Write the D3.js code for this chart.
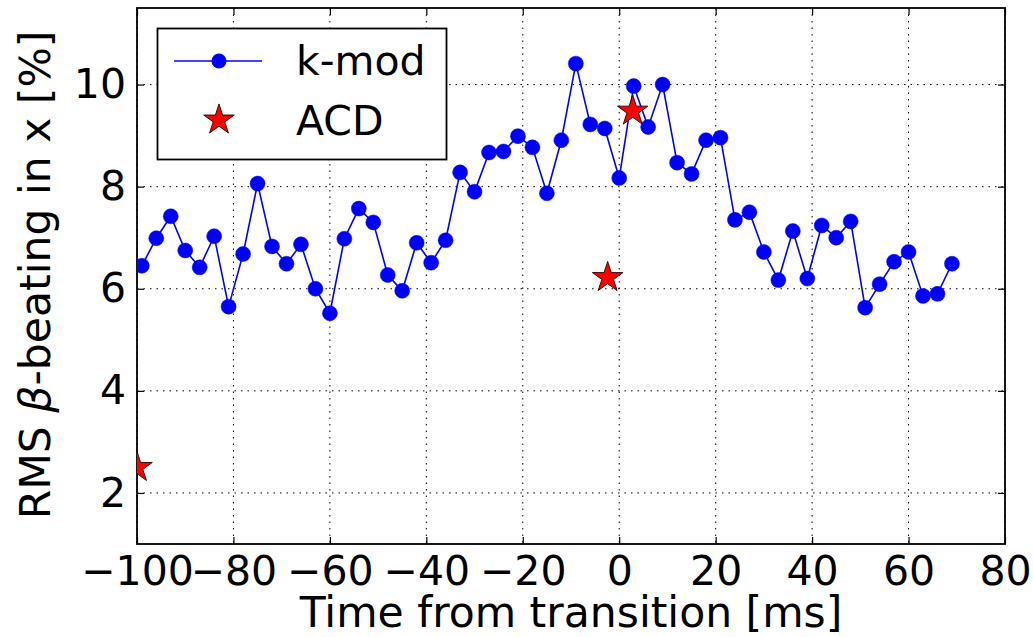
<!DOCTYPE html>
<html>
<head>
<meta charset="utf-8">
<script src="https://cdn.jsdelivr.net/npm/d3@7"></script>
<style>
  body { margin: 0; background: #fff; }
  text { font-family: "DejaVu Sans", sans-serif; fill: #000; }
</style>
</head>
<body>
<div id="chart"></div>
<script>
// k-mod measurements
var kmodTime = [-99, -96, -93, -90, -87, -84, -81, -78, -75, -72, -69, -66, -63, -60, -57,
    -54, -51, -48, -45, -42, -39, -36, -33, -30, -27, -24, -21, -18, -15, -12, -9, -6, -3,
    0, 3, 6, 9, 12, 15, 18, 21, 24, 27, 30, 33, 36, 39, 42, 45, 48, 51, 54, 57, 60, 63, 66, 69];
var kmodBeat = [6.45, 6.99, 7.42, 6.75, 6.42, 7.03, 5.65, 6.68, 8.06, 6.83,
    6.49, 6.87, 6.0, 5.52, 6.98, 7.57, 7.3, 6.27, 5.96, 6.9,
    6.51, 6.95, 8.28, 7.9, 8.67, 8.69, 8.99, 8.77, 7.87, 8.91,
    10.41, 9.22, 9.14, 8.17, 9.97, 9.17, 10.0, 8.47, 8.25, 8.91,
    8.96, 7.35, 7.5, 6.72, 6.17, 7.13, 6.2, 7.24, 7.0, 7.32,
    5.63, 6.09, 6.53, 6.72, 5.86, 5.9, 6.49];

// ACD measurements
var acdTime = [-100, -2.4, 2.8];
var acdBeat = [2.5, 6.22, 9.48];

var xTicks = [-100, -80, -60, -40, -20, 0, 20, 40, 60, 80];
var yTicks = [2, 4, 6, 8, 10];
var legendLabels = ["k-mod", "ACD"];

var svgWidth = 1033;
var svgHeight = 637;
var margin = { top: 8, right: 28, bottom: 93, left: 137 };
var chartWidth = svgWidth - margin.left - margin.right;
var chartHeight = svgHeight - margin.top - margin.bottom;

var svg = d3.select("#chart")
    .append("svg")
    .attr("width", svgWidth)
    .attr("height", svgHeight);

var chartGroup = svg.append("g")
    .attr("transform", `translate(${margin.left}, ${margin.top})`);

var xScale = d3.scaleLinear().domain([-100, 80]).range([0, chartWidth]);
var yScale = d3.scaleLinear().domain([1, 11.5]).range([chartHeight, 0]);

// clip for the data
svg.append("defs").append("clipPath")
    .attr("id", "plotClip")
    .append("rect")
    .attr("width", chartWidth)
    .attr("height", chartHeight);

// dotted grid
var grid = chartGroup.append("g").attr("class", "grid");
grid.selectAll("line.gx")
    .data(xTicks)
    .enter()
    .append("line")
    .attr("x1", d => xScale(d))
    .attr("x2", d => xScale(d))
    .attr("y1", 0)
    .attr("y2", chartHeight);
grid.selectAll("line.gy")
    .data(yTicks)
    .enter()
    .append("line")
    .attr("x1", 0)
    .attr("x2", chartWidth)
    .attr("y1", d => yScale(d))
    .attr("y2", d => yScale(d));
grid.selectAll("line")
    .attr("stroke", "#000")
    .attr("stroke-width", 1)
    .attr("stroke-dasharray", "1.5,5");

// Axes (ticks pointing inward on every side)
var tickLen = 7;
chartGroup.append("g")
    .attr("transform", `translate(0, ${chartHeight})`)
    .call(d3.axisBottom(xScale).tickValues(xTicks).tickSize(-tickLen).tickPadding(12))
    .call(g => g.selectAll("text").attr("font-size", 41).attr("font-family", "DejaVu Sans"));

chartGroup.append("g")
    .call(d3.axisTop(xScale).tickValues(xTicks).tickSize(-tickLen).tickFormat(""));

chartGroup.append("g")
    .call(d3.axisLeft(yScale).tickValues(yTicks).tickSize(-tickLen).tickPadding(11))
    .call(g => g.selectAll("text").attr("font-size", 41).attr("font-family", "DejaVu Sans"));

chartGroup.append("g")
    .attr("transform", `translate(${chartWidth}, 0)`)
    .call(d3.axisRight(yScale).tickValues(yTicks).tickSize(-tickLen).tickFormat(""));

chartGroup.selectAll(".domain").remove();
chartGroup.selectAll(".tick line").attr("stroke", "#000").attr("stroke-width", 1.2);

// frame
chartGroup.append("rect")
    .attr("width", chartWidth)
    .attr("height", chartHeight)
    .attr("fill", "none")
    .attr("stroke", "#000")
    .attr("stroke-width", 1.8);

// data
var plotArea = chartGroup.append("g").attr("clip-path", "url(#plotClip)");

var kmodData = kmodTime.map((t, i) => ({ t: t, v: kmodBeat[i] }));
var acdData = acdTime.map((t, i) => ({ t: t, v: acdBeat[i] }));

var line = d3.line()
    .x(d => xScale(d.t))
    .y(d => yScale(d.v));

plotArea.append("path")
    .datum(kmodData)
    .attr("d", line)
    .attr("fill", "none")
    .attr("stroke", "#0000ff")
    .attr("stroke-width", 1.6);

plotArea.selectAll("circle")
    .data(kmodData)
    .enter()
    .append("circle")
    .attr("cx", d => xScale(d.t))
    .attr("cy", d => yScale(d.v))
    .attr("r", 7.5)
    .attr("fill", "#0000ff")
    .attr("stroke", "#0000ff")
    .attr("stroke-width", 0.5);

var star = d3.symbol().type(d3.symbolStar).size(290);

plotArea.selectAll("path.acd")
    .data(acdData)
    .enter()
    .append("path")
    .attr("class", "acd")
    .attr("d", star)
    .attr("transform", d => `translate(${xScale(d.t)}, ${yScale(d.v)})`)
    .attr("fill", "#ff0000")
    .attr("stroke", "#2a0000")
    .attr("stroke-width", 0.9);

// axis labels
svg.append("text")
    .attr("text-anchor", "middle")
    .attr("x", margin.left + chartWidth / 2)
    .attr("y", 627)
    .attr("font-size", 42.5)
    .text("Time from transition [ms]");

var yLabel = svg.append("text")
    .attr("text-anchor", "middle")
    .attr("transform", "translate(50, 275) rotate(-90)")
    .attr("font-size", 42.5);
yLabel.append("tspan").text("RMS ");
yLabel.append("tspan").attr("font-style", "italic").text("β");
yLabel.append("tspan").text("-beating in x [%]");

// legend
var legend = svg.append("g");
legend.append("rect")
    .attr("x", 157.5)
    .attr("y", 28.5)
    .attr("width", 289)
    .attr("height", 131)
    .attr("fill", "#fff")
    .attr("stroke", "#000")
    .attr("stroke-width", 1.8);

legend.append("line")
    .attr("x1", 174)
    .attr("x2", 262)
    .attr("y1", 61)
    .attr("y2", 61)
    .attr("stroke", "#0000ff")
    .attr("stroke-width", 1.6);
legend.append("circle")
    .attr("cx", 219)
    .attr("cy", 61)
    .attr("r", 7.5)
    .attr("fill", "#0000ff");
legend.append("path")
    .attr("d", star)
    .attr("transform", "translate(219, 120)")
    .attr("fill", "#ff0000")
    .attr("stroke", "#2a0000")
    .attr("stroke-width", 0.9);

legend.selectAll("text")
    .data(legendLabels)
    .enter()
    .append("text")
    .attr("x", 296)
    .attr("y", (d, i) => 75 + i * 60)
    .attr("font-size", 41)
    .text(d => d);
</script>
</body>
</html>
